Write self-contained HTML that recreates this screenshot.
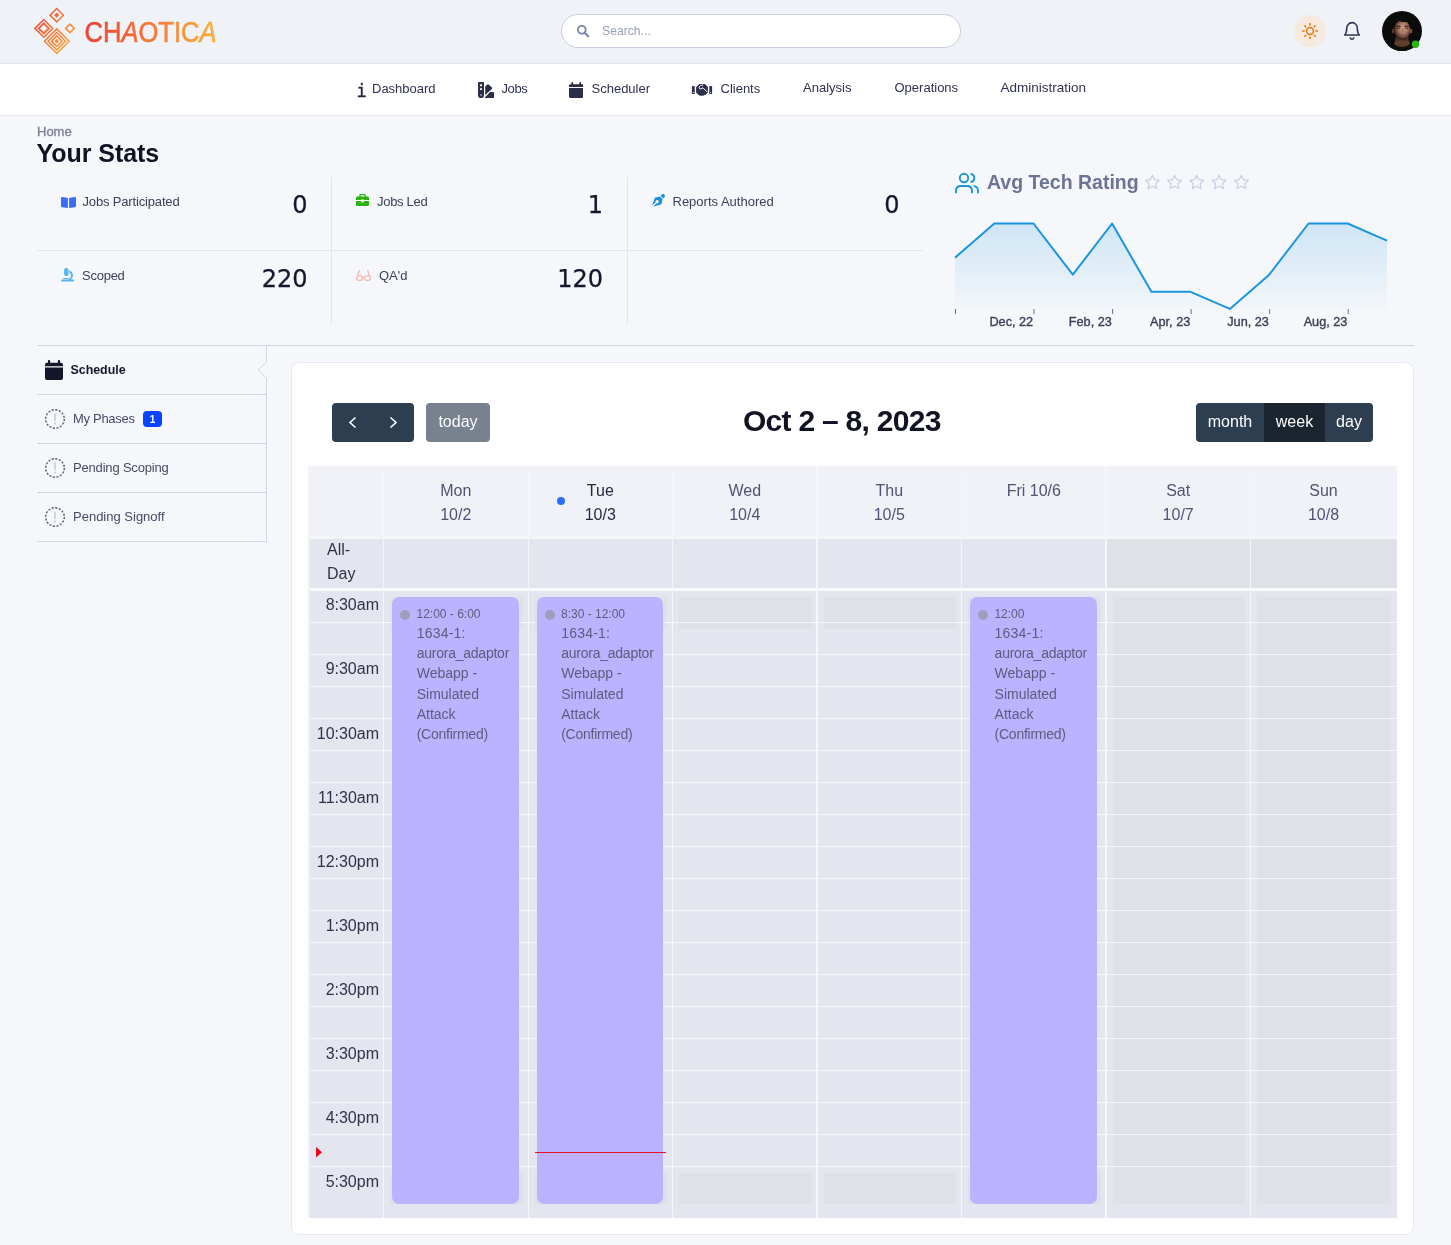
<!DOCTYPE html>
<html lang="en">
<head>
<meta charset="utf-8">
<title>Chaotica - Dashboard</title>
<style>
*{box-sizing:border-box;margin:0;padding:0}
html,body{width:1451px;height:1245px;overflow:hidden}
body{position:relative;background:#f5f7fa;font-family:"Liberation Sans",sans-serif;font-size:13px;color:#33354d}
.abs{position:absolute}
.t{position:absolute;white-space:nowrap;line-height:1}
/* header */
#hdr{position:absolute;left:0;top:0;width:1451px;height:64px;background:#eff2f7;border-bottom:1px solid #e1e5ee}
#nav{position:absolute;left:0;top:64px;width:1451px;height:52px;background:#fff;border-bottom:1px solid #e4e7f0}
#search{position:absolute;left:561px;top:14px;width:400px;height:34px;border:1px solid #c9cde0;border-radius:17px;background:#fff}
.nv{position:absolute;top:80.800px;font-size:13px;color:#2e3150;white-space:nowrap;line-height:15px}
/* stats */
.lbl{position:absolute;font-size:13px;color:#3c405c;white-space:nowrap;line-height:15px}
.num{-webkit-text-stroke:0.250px #14162b;position:absolute;font-family:"DejaVu Sans","Liberation Sans",sans-serif;font-size:24px;color:#14162b;white-space:nowrap;line-height:28px;text-align:right}
.hl{position:absolute;height:1px;background:#e2e5ee}
.vl{position:absolute;width:1px;background:#e2e5ee}
/* sidebar */
.sb{position:absolute;left:73px;font-size:13px;color:#474b66;white-space:nowrap;line-height:15px}
/* calendar */
#card{position:absolute;left:291px;top:362px;width:1123px;height:873px;background:#fff;border:1px solid #e6e9f1;border-radius:8px}
.btn{position:absolute;top:403px;height:39px;color:#fff;font-size:16px;line-height:39px;text-align:center;background:#2c3e50}
#grid{position:absolute;left:309px;top:466px;width:1087.500px;height:751.500px;background:#e3e6ee;overflow:hidden}
.gl{position:absolute;background:#f4f6fa}
.dh{position:absolute;top:13.200px;width:144px;text-align:center;font-size:16px;line-height:24px;color:#4f5474}
.tm{position:absolute;left:0;width:70px;text-align:right;font-size:16px;line-height:20px;color:#2f3349}
.ev{position:absolute;top:131px;height:607px;background:#bdb2ff;border-radius:7px;color:#5a5e7c;font-size:14px;line-height:20.2px}
.ev .dot{position:absolute;left:8px;top:13px;width:10px;height:10px;border-radius:5px;background:#9b9fbc}
.ev .tt{position:absolute;left:24.300px;top:10px;font-size:12px;line-height:14px;white-space:nowrap}
.ev .bd{position:absolute;left:24.500px;top:26px;white-space:nowrap}
.bg{position:absolute;background:#e0e1e6}
</style>
</head>
<body>
<!-- HEADER -->
<div id="hdr"></div>
<div id="nav"></div>
<svg class="abs" style="left:0;top:0" width="240" height="64" viewBox="0 0 240 64">
<defs><linearGradient id="lg" gradientUnits="userSpaceOnUse" x1="84" y1="0" x2="217" y2="0"><stop offset="0" stop-color="#ee4036"/><stop offset="1" stop-color="#fbb03b"/></linearGradient>
<linearGradient id="lg2" gradientUnits="userSpaceOnUse" x1="34" y1="14" x2="72" y2="46"><stop offset="0" stop-color="#ee4538"/><stop offset="1" stop-color="#fbaa3c"/></linearGradient></defs>
<path d="M50.0 15.2L56.7 8.5L63.4 15.2L56.7 21.9Z" fill="none" stroke="url(#lg2)" stroke-width="1.5"/>
<path d="M54.1 15.2L56.7 12.6L59.3 15.2L56.7 17.8Z" fill="url(#lg2)"/>
<path d="M34.9 28.4L43.8 19.5L52.7 28.4L43.8 37.3Z" fill="none" stroke="url(#lg2)" stroke-width="1.5"/>
<path d="M38.8 28.4L43.8 23.4L48.8 28.4L43.8 33.4Z" fill="none" stroke="url(#lg2)" stroke-width="1.9"/>
<path d="M65.7 28.4L70.0 24.1L74.3 28.4L70.0 32.7Z" fill="none" stroke="url(#lg2)" stroke-width="1.6"/>
<path d="M44.5 41.2L56.8 28.9L69.1 41.2L56.8 53.5Z" fill="none" stroke="url(#lg2)" stroke-width="1.5"/>
<path d="M48.1 41.2L56.8 32.5L65.5 41.2L56.8 49.9Z" fill="none" stroke="url(#lg2)" stroke-width="1.5"/>
<path d="M51.6 41.2L56.8 36.0L62.0 41.2L56.8 46.4Z" fill="none" stroke="url(#lg2)" stroke-width="1.6"/>
<path d="M54.4 41.2L56.8 38.8L59.2 41.2L56.8 43.6Z" fill="url(#lg2)"/>
<text x="84.500" y="41.700" font-family="Liberation Sans, sans-serif" font-size="30" fill="url(#lg)" stroke="url(#lg)" stroke-width="0.600" textLength="132" lengthAdjust="spacingAndGlyphs">CH<tspan font-style="italic">A</tspan>OTIC<tspan font-style="italic">A</tspan></text>
</svg>
<div id="search"></div>
<svg class="abs" style="left:576px;top:24px" width="14" height="14" viewBox="0 0 14 14"><circle cx="5.8" cy="5.8" r="3.9" fill="none" stroke="#7f86a8" stroke-width="1.9"/><path d="M8.7 8.7L12.2 12.2" stroke="#7f86a8" stroke-width="2.1" stroke-linecap="round"/></svg>
<div class="t" style="left:602px;top:24px;font-size:12.2px;color:#9aa0bd;line-height:14px">Search...</div>
<div class="abs" style="left:1294px;top:15px;width:32px;height:32px;border-radius:16px;background:#f5eadd"></div>
<svg class="abs" style="left:1301px;top:22px" width="18" height="18" viewBox="0 0 18 18" fill="none" stroke="#e8780e" stroke-width="1.5" stroke-linecap="round"><circle cx="9" cy="9" r="3.4"/><path d="M9 1.6v1.5M9 14.9v1.5M1.6 9h1.5M14.9 9h1.5M3.8 3.8l1 1M13.2 13.2l1 1M3.8 14.2l1-1M13.2 4.8l1-1"/></svg>
<svg class="abs" style="left:1342px;top:20px" width="20" height="22" viewBox="0 0 20 22" fill="none" stroke="#2e3252" stroke-width="1.6" stroke-linecap="round" stroke-linejoin="round"><path d="M2.600 15c1.500-1.200 2-2.800 2-5V9c0-3.700 2.300-6.400 5.400-6.400s5.400 2.700 5.400 6.400v1c0 2.200.5 3.800 2 5z"/><path d="M8.200 18c.4.800 1 1.100 1.800 1.100s1.400-.3 1.800-1.100"/></svg>
<svg class="abs" style="left:1381px;top:10px" width="44" height="44" viewBox="0 0 44 44">
<defs><radialGradient id="fc" cx="0.560" cy="0.420" r="0.600"><stop offset="0" stop-color="#cfa58c"/><stop offset="0.450" stop-color="#a97a62"/><stop offset="0.800" stop-color="#5e3e31"/><stop offset="1" stop-color="#2a1b17"/></radialGradient>
<linearGradient id="nk" x1="0" y1="0" x2="0" y2="1"><stop offset="0" stop-color="#3d261e"/><stop offset="0.500" stop-color="#65412f"/><stop offset="1" stop-color="#4a2f24"/></linearGradient>
<clipPath id="avc"><circle cx="21" cy="21" r="20"/></clipPath><filter id="bl" x="-20%" y="-20%" width="140%" height="140%"><feGaussianBlur stdDeviation="0.550"/></filter></defs>
<circle cx="21" cy="21" r="20" fill="#0c0b0c"/>
<g clip-path="url(#avc)"><g filter="url(#bl)">
<path d="M14.500 27c0 4-1 6-2 8l8.500 4 8.500-4c-1-2-2-4-2-8z" fill="url(#nk)"/>
<path d="M2 44c.5-6 4-9 10.500-10.500 2.500 2.500 5 3.500 8.500 3.500s6-1 8.500-3.500C36 35 39.500 38 40 44z" fill="#0d0c0d"/>
<ellipse cx="12.300" cy="21" rx="1.300" ry="2.600" fill="#5a3a2e"/><ellipse cx="30" cy="21" rx="1.300" ry="2.600" fill="#7a5342"/>
<ellipse cx="21.200" cy="20" rx="8" ry="10" fill="url(#fc)"/>
<path d="M11.500 19c-.8-8 3-14.500 9.700-14.500S31.500 11 30.700 19c-.8-4-2-6.500-4-7.500-2 .8-6 .8-9-.5-2.700 1.200-5 4-6.200 8z" fill="#0e0b0b"/>
<path d="M15.300 16.600c1.300-.7 3-.7 4.200 0M23.300 16.600c1.300-.7 3-.7 4.200 0" stroke="#2b1a16" stroke-width="1.100" fill="none"/>
<path d="M15.800 18.200h3.200M23.800 18.200h3.200" stroke="#3a2620" stroke-width=".9"/>
<path d="M21.800 18.500v4" stroke="#94684f" stroke-width="1.100"/>
<path d="M18.700 24.800c1.500.5 3.500.5 5 0" stroke="#8c5058" stroke-width="1.300" fill="none"/>
<path d="M17 28c2.500 1.300 6 1.300 8.500 0" stroke="#3a241d" stroke-width="1.200" fill="none"/>
</g></g>
<circle cx="34.500" cy="34.300" r="3.700" fill="#27b40c"/></svg>
<div class="nv" style="left:356.500px;top:80.500px;font-family:'DejaVu Sans Mono','Liberation Mono',monospace;font-size:17px;line-height:20px;color:#25273f;-webkit-text-stroke:0.350px #25273f">i</div>
<div class="nv" style="left:372px">Dashboard</div>
<svg class="abs" style="left:477.900px;top:81.900px" width="16.500" height="16.200" viewBox="0 0 16.500 16.200" fill="#2b2f4a"><path d="M0 .7C0 .3.300 0 .7 0h4.600c.4 0 .7.300.7.700v12.500a3 3 0 0 1-6 0zM2 2.300v1.900h2V2.300zM2 6.200v1.900h2V6.200z" fill-rule="evenodd"/><rect x="2.100" y="12.100" width="1.800" height="1.800" fill="#8d90a6"/><path d="M7.200 4.600L9.400 2.400c.300-.300.800-.300 1.100 0L14 5.600c.3.300.3.800 0 1.100L7.200 12.900z"/><path d="M6.300 16.100L12 10.100h3.500c.4 0 .7.300.7.700v4.600c0 .4-.3.700-.7.700z"/></svg>
<div class="nv" style="left:501.500px;letter-spacing:-0.4px">Jobs</div>
<svg class="abs" style="left:568.500px;top:81.800px" width="14.500" height="16" viewBox="0 0 16 17" preserveAspectRatio="none" fill="#2a2d47"><path d="M3.600 0c.6 0 1 .4 1 1v1.300h6.800V1c0-.6.400-1 1-1s1 .4 1 1v1.300h.9c.9 0 1.700.8 1.700 1.700v1.300H0V4c0-.9.800-1.700 1.700-1.700h.9V1c0-.6.400-1 1-1zM0 6.300h16v9c0 .9-.8 1.700-1.700 1.700H1.700C.8 17 0 16.200 0 15.300z"/></svg>
<div class="nv" style="left:591.500px">Scheduler</div>
<svg class="abs" style="left:691px;top:83px" width="22" height="14" viewBox="0 0 22 14" fill="#2b2f4a"><rect x=".9" y="3.100" width="2.800" height="7.900"/><rect x="18.300" y="3.100" width="2.800" height="7.900"/><circle cx="2.300" cy="9.500" r=".5" fill="#fff"/><circle cx="19.700" cy="9.500" r=".5" fill="#fff"/><path d="M5.100 4.200L8.300 1h5.600l3 3v5.400l-1.400 1.300-.800 1-1.300.2-.9.800-1.400-.1-.9.400-1.300-.6-1.300-.3-2.500-2.700z"/><path d="M12.300 2.100c-1.800-.4-3.600.5-4.100 2-.4 1.100.3 2 1.400 1.700l2.400-1 4.300 4.300" fill="none" stroke="#fff" stroke-width="1"/></svg>
<div class="nv" style="left:720.500px">Clients</div>
<div class="nv" style="left:803px;top:79.600px">Analysis</div>
<div class="nv" style="left:894.500px;top:79.600px">Operations</div>
<div class="nv" style="left:1000.500px;top:79.600px;font-size:13.500px">Administration</div>
<div class="t" style="left:37px;top:124.700px;font-size:13px;line-height:14px;color:#7d8196;-webkit-text-stroke:0.350px #7d8196">Home</div>
<div class="t" style="left:36.500px;top:139px;font-size:25px;line-height:28px;font-weight:bold;letter-spacing:-0.050px;color:#111324">Your Stats</div>
<div class="hl" style="left:37px;top:250px;width:886px"></div>
<div class="vl" style="left:331px;top:177px;height:147px"></div>
<div class="vl" style="left:627px;top:177px;height:147px"></div>
<!-- jobs participated -->
<svg class="abs" style="left:61px;top:197px" width="15" height="11" viewBox="0 0 15 11"><path d="M0 1C0 .4.500 0 1.100.100L6 .8c.500.100.900.500.900 1V11L1 10.200c-.600-.100-1-.500-1-1.100zM15 1c0-.600-.500-1-1.100-.900L9 .8c-.500.100-.900.500-.900 1V11l5.900-.8c.600-.100 1-.500 1-1.100z" fill="#3b6cf6"/></svg>
<div class="lbl" style="left:82.500px;top:193.700px;letter-spacing:-0.160px">Jobs Participated</div>
<div class="num" style="right:1143.500px;top:190.700px">0</div>
<!-- jobs led -->
<svg class="abs" style="left:356px;top:194px" width="13" height="12" viewBox="0 0 13 12"><path d="M4.500 0h4c.700 0 1.200.500 1.200 1.200V2.500h1.800c.800 0 1.500.700 1.500 1.500v2H8V5.500H5V6H0V4c0-.800.700-1.500 1.500-1.500h1.800V1.200C3.300.500 3.800 0 4.500 0zm.100 1.300v1.200h3.800V1.300zM0 7h5v.800c0 .400.300.700.700.700h1.600c.400 0 .700-.300.700-.700V7h5v3.500c0 .800-.700 1.500-1.500 1.500h-10C.700 12 0 11.300 0 10.500z" fill="#2bb20f" fill-rule="evenodd"/></svg>
<div class="lbl" style="left:377px;top:193.700px;letter-spacing:-0.300px">Jobs Led</div>
<div class="num" style="right:848px;top:190.700px">1</div>
<!-- reports authored -->
<svg class="abs" style="left:651px;top:194px" width="14" height="14" viewBox="0 0 14 14"><path d="M10.800.500c.600-.600 1.500-.600 2.100 0l.600.600c.600.600.600 1.500 0 2.100l-1.200 1.200-2.700-2.700zM8.900 2.400l2.700 2.700-1 4.300c-.100.500-.500.900-1 1L2 12.800l3.600-3.600c.600.200 1.300 0 1.700-.500.600-.600.600-1.600 0-2.200s-1.600-.600-2.200 0c-.500.500-.600 1.100-.500 1.700L1 11.800 3.600 4.400c.100-.500.500-.900 1-1z" fill="#1b8fe0"/></svg>
<div class="lbl" style="left:672.500px;top:193.700px">Reports Authored</div>
<div class="num" style="right:551.500px;top:190.700px">0</div>
<!-- scoped -->
<svg class="abs" style="left:61px;top:268px" width="13" height="14" viewBox="0 0 13 14"><path d="M4.300 0h2c.300 0 .500.200.500.500V1h.200c.300 0 .500.200.500.500v5c0 .300-.200.500-.500.500h-.200v.500c0 .300-.200.500-.500.500h-2c-.300 0-.500-.200-.500-.500V7h-.200C3.300 7 3.100 6.800 3.100 6.500v-5c0-.300.200-.500.500-.500h.200V.500c0-.300.200-.500.500-.500zM8.300 2.200c2.100.700 3.700 2.700 3.700 5.100 0 1.700-.800 3.200-2 4.200h2c.500 0 1 .400 1 1s-.500 1-1 1H1c-.500 0-1-.400-1-1s.500-1 1-1h5.500c2 0 3.500-1.700 3.500-3.700 0-1.400-.700-2.600-1.700-3.200zM2.500 10h5c.300 0 .500.200.500.500s-.200.500-.500.500h-5c-.300 0-.500-.200-.500-.500s.200-.500.500-.500z" fill="#56b7ea"/></svg>
<div class="lbl" style="left:82px;top:267.700px;letter-spacing:-0.250px">Scoped</div>
<div class="num" style="right:1143.500px;top:264.700px">220</div>
<!-- qa'd -->
<svg class="abs" style="left:356px;top:270px" width="15" height="11" viewBox="0 0 15 11" fill="none" stroke="#f7b7b3" stroke-width="1.300"><path d="M1.500 6.500L3 1.300c.100-.400.600-.700 1-.600M13.500 6.500L12 1.300c-.100-.400-.600-.700-1-.600"/><rect x=".7" y="5.800" width="5.600" height="4.500" rx="2"/><rect x="8.700" y="5.800" width="5.600" height="4.500" rx="2"/><path d="M6.300 7.200h2.400"/></svg>
<div class="lbl" style="left:379px;top:267.700px">QA'd</div>
<div class="num" style="right:848px;top:264.700px">120</div>

<svg class="abs" style="left:0;top:0" width="1451" height="345" viewBox="0 0 1451 345">
<defs><linearGradient id="ag" x1="0" y1="223" x2="0" y2="309" gradientUnits="userSpaceOnUse"><stop offset="0" stop-color="#1b95e0" stop-opacity="0.180"/><stop offset="1" stop-color="#1b95e0" stop-opacity="0.010"/></linearGradient></defs>
<path d="M955.0 257.7 L994.3 223.5 L1033.5 223.5 L1072.8 274.7 L1112.1 223.5 L1151.4 291.8 L1190.6 291.8 L1229.9 308.9 L1269.2 274.7 L1308.5 223.5 L1347.7 223.5 L1387.0 240.6 L1387.0 309 L955.0 309Z" fill="url(#ag)"/>
<path d="M955.0 257.7 L994.3 223.5 L1033.5 223.5 L1072.8 274.7 L1112.1 223.5 L1151.4 291.8 L1190.6 291.8 L1229.9 308.9 L1269.2 274.7 L1308.5 223.5 L1347.7 223.5 L1387.0 240.6" fill="none" stroke="#1b95e0" stroke-width="2" stroke-linejoin="round"/>
<path d="M955.5 309v5" stroke="#6b7088" stroke-width="1"/><path d="M1034.0 309v5" stroke="#6b7088" stroke-width="1"/><path d="M1112.6 309v5" stroke="#6b7088" stroke-width="1"/><path d="M1191.1 309v5" stroke="#6b7088" stroke-width="1"/><path d="M1269.7 309v5" stroke="#6b7088" stroke-width="1"/><path d="M1348.2 309v5" stroke="#6b7088" stroke-width="1"/>
<text x="1033.2" y="325.5" text-anchor="end" font-size="12.700" fill="#3b4058" stroke="#3b4058" stroke-width="0.350" font-family="Liberation Sans, sans-serif">Dec, 22</text><text x="1111.8" y="325.5" text-anchor="end" font-size="12.700" fill="#3b4058" stroke="#3b4058" stroke-width="0.350" font-family="Liberation Sans, sans-serif">Feb, 23</text><text x="1190.3" y="325.5" text-anchor="end" font-size="12.700" fill="#3b4058" stroke="#3b4058" stroke-width="0.350" font-family="Liberation Sans, sans-serif">Apr, 23</text><text x="1268.9" y="325.5" text-anchor="end" font-size="12.700" fill="#3b4058" stroke="#3b4058" stroke-width="0.350" font-family="Liberation Sans, sans-serif">Jun, 23</text><text x="1347.4" y="325.5" text-anchor="end" font-size="12.700" fill="#3b4058" stroke="#3b4058" stroke-width="0.350" font-family="Liberation Sans, sans-serif">Aug, 23</text>
<g fill="none" stroke="#1b95e0" stroke-width="1.900" stroke-linecap="round" stroke-linejoin="round"><circle cx="964" cy="178" r="4.200"/><path d="M956 192.500v-1.500c0-3 2-5 5-5h6c3 0 5 2 5 5v1.500"/><path d="M971.300 174c1.800.500 3 2.100 3 4s-1.200 3.500-3 4"/><path d="M978 192.500v-1.500c0-2.300-1.300-4.200-3.500-4.800"/></g>
<text x="987" y="189.300" font-size="19.500" font-weight="bold" fill="#6d7394" font-family="Liberation Sans, sans-serif">Avg Tech Rating</text>
<path transform="translate(1152.4 182.400)" d="M0 -7.200L2.100 -2.700L7 -2.100L3.400 1.300L4.300 6.200L0 3.800L-4.300 6.200L-3.400 1.300L-7 -2.100L-2.100 -2.700Z" fill="none" stroke="#c9cde0" stroke-width="1.200" stroke-linejoin="round"/><path transform="translate(1174.5 182.400)" d="M0 -7.200L2.100 -2.700L7 -2.100L3.400 1.300L4.300 6.200L0 3.800L-4.300 6.200L-3.400 1.300L-7 -2.100L-2.100 -2.700Z" fill="none" stroke="#c9cde0" stroke-width="1.200" stroke-linejoin="round"/><path transform="translate(1196.7 182.400)" d="M0 -7.200L2.100 -2.700L7 -2.100L3.400 1.300L4.300 6.200L0 3.800L-4.300 6.200L-3.400 1.300L-7 -2.100L-2.100 -2.700Z" fill="none" stroke="#c9cde0" stroke-width="1.200" stroke-linejoin="round"/><path transform="translate(1219 182.400)" d="M0 -7.200L2.100 -2.700L7 -2.100L3.400 1.300L4.300 6.200L0 3.800L-4.300 6.200L-3.400 1.300L-7 -2.100L-2.100 -2.700Z" fill="none" stroke="#c9cde0" stroke-width="1.200" stroke-linejoin="round"/><path transform="translate(1241.4 182.400)" d="M0 -7.200L2.100 -2.700L7 -2.100L3.400 1.300L4.300 6.200L0 3.800L-4.300 6.200L-3.400 1.300L-7 -2.100L-2.100 -2.700Z" fill="none" stroke="#c9cde0" stroke-width="1.200" stroke-linejoin="round"/>
</svg>
<div class="hl" style="left:37px;top:345px;width:1377px;background:#d1d6e3"></div>
<div class="hl" style="left:37px;top:394px;width:230px;background:#d1d6e3"></div>
<div class="hl" style="left:37px;top:443px;width:230px;background:#d1d6e3"></div>
<div class="hl" style="left:37px;top:492px;width:230px;background:#d1d6e3"></div>
<div class="hl" style="left:37px;top:541px;width:230px;background:#d1d6e3"></div>
<svg class="abs" style="left:250px;top:340px" width="20" height="204" viewBox="250 340 20 204"><path d="M266.500 345.500V361.800L258.100 370L266.500 378.200V541.500" fill="none" stroke="#d1d6e3" stroke-width="1"/></svg>
<svg class="abs" style="left:45px;top:360px" width="18" height="20" viewBox="0 0 16 17" preserveAspectRatio="none" fill="#14172b"><path d="M3.600 0c.6 0 1 .4 1 1v1.300h6.800V1c0-.6.400-1 1-1s1 .4 1 1v1.300h.9c.9 0 1.700.8 1.700 1.700v1.300H0V4c0-.9.800-1.700 1.700-1.700h.9V1c0-.6.400-1 1-1zM0 6.300h16v9c0 .9-.8 1.700-1.700 1.700H1.700C.8 17 0 16.200 0 15.300z"/></svg>
<div class="sb" style="left:70.500px;top:362.700px;font-weight:bold;color:#14172b;font-size:12.400px">Schedule</div>
<svg class="abs" style="left:44px;top:408px" width="22" height="22" viewBox="0 0 22 22"><circle cx="11" cy="11" r="9.300" fill="none" stroke="#53576f" stroke-width="1.350" stroke-dasharray="2.100 1.550"/><path d="M11 6v6.500" stroke="#c4c7d6" stroke-width="1.500" stroke-linecap="round"/><circle cx="11" cy="15.600" r="1" fill="#c4c7d6"/></svg>
<div class="sb" style="top:411.300px;letter-spacing:-0.300px">My Phases</div>
<div class="abs" style="left:143px;top:411px;width:19px;height:16px;border-radius:4px;background:#0a44ff;color:#fff;font-size:10px;font-weight:bold;line-height:17px;text-align:center">1</div>
<svg class="abs" style="left:44px;top:457px" width="22" height="22" viewBox="0 0 22 22"><circle cx="11" cy="11" r="9.300" fill="none" stroke="#53576f" stroke-width="1.350" stroke-dasharray="2.100 1.550"/><path d="M11 6v6.500" stroke="#c4c7d6" stroke-width="1.500" stroke-linecap="round"/><circle cx="11" cy="15.600" r="1" fill="#c4c7d6"/></svg>
<div class="sb" style="top:460.300px;letter-spacing:-0.180px">Pending Scoping</div>
<svg class="abs" style="left:44px;top:506px" width="22" height="22" viewBox="0 0 22 22"><circle cx="11" cy="11" r="9.300" fill="none" stroke="#53576f" stroke-width="1.350" stroke-dasharray="2.100 1.550"/><path d="M11 6v6.500" stroke="#c4c7d6" stroke-width="1.500" stroke-linecap="round"/><circle cx="11" cy="15.600" r="1" fill="#c4c7d6"/></svg>
<div class="sb" style="top:509.300px">Pending Signoff</div>

<div id="card"></div>
<div class="btn" style="left:332px;width:82px;border-radius:4px"></div>
<svg class="abs" style="left:332px;top:403px" width="82" height="39" viewBox="0 0 82 39" fill="none" stroke="#fff" stroke-width="1.600"><path d="M23.500 14.500L18 19.500L23.500 24.500"/><path d="M58.500 14.500L64 19.500L58.500 24.500"/></svg>
<div class="btn" style="left:426px;width:64px;border-radius:4px;background:#77828e;color:#fcfcfd;line-height:38px">today</div>
<div class="t" style="left:743px;top:403.500px;font-size:30px;letter-spacing:-0.720px;font-weight:bold;line-height:34px;color:#111322">Oct 2 – 8, 2023</div>
<div class="btn" style="left:1196px;width:68px;border-radius:4px 0 0 4px;line-height:38px">month</div>
<div class="btn" style="left:1264px;width:61px;background:#1a252f;line-height:38px">week</div>
<div class="btn" style="left:1325px;width:48px;border-radius:0 4px 4px 0;line-height:38px">day</div>
<div class="abs" style="left:308.200px;top:466px;width:1px;height:751.500px;background:#edf0f5"></div>
<div id="grid"><div class="abs" style="left:0;top:0;width:1087.5px;height:71px;background:#f0f2f7"></div>
<div class="bg" style="left:797.0px;top:72px;width:290.5px;height:50px"></div>
<div class="bg" style="left:803.5px;top:131px;width:132.0px;height:607px"></div>
<div class="bg" style="left:948.0px;top:131px;width:133.5px;height:607px"></div>
<div class="bg" style="left:81.1px;top:131px;width:132.5px;height:31.500px"></div>
<div class="bg" style="left:81.1px;top:707.200px;width:132.5px;height:30.800px"></div>
<div class="bg" style="left:225.6px;top:131px;width:132.5px;height:31.500px"></div>
<div class="bg" style="left:225.6px;top:707.200px;width:132.5px;height:30.800px"></div>
<div class="bg" style="left:370.1px;top:131px;width:132.5px;height:31.500px"></div>
<div class="bg" style="left:370.1px;top:707.200px;width:132.5px;height:30.800px"></div>
<div class="bg" style="left:514.5px;top:131px;width:132.5px;height:31.500px"></div>
<div class="bg" style="left:514.5px;top:707.200px;width:132.5px;height:30.800px"></div>
<div class="bg" style="left:659.0px;top:131px;width:132.5px;height:31.500px"></div>
<div class="bg" style="left:659.0px;top:707.200px;width:132.5px;height:30.800px"></div>
<div class="gl" style="left:0;top:70.200px;width:1087.5px;height:2.700px;background:#f3f5f9"></div>
<div class="gl" style="left:0;top:121.700px;width:1087.5px;height:3.200px;background:#fafbfd"></div>
<div class="gl" style="left:0;top:155.8px;width:1087.5px;height:1px"></div>
<div class="gl" style="left:0;top:187.8px;width:1087.5px;height:1px"></div>
<div class="gl" style="left:0;top:219.8px;width:1087.5px;height:1px"></div>
<div class="gl" style="left:0;top:251.9px;width:1087.5px;height:1px"></div>
<div class="gl" style="left:0;top:283.9px;width:1087.5px;height:1px"></div>
<div class="gl" style="left:0;top:315.9px;width:1087.5px;height:1px"></div>
<div class="gl" style="left:0;top:347.9px;width:1087.5px;height:1px"></div>
<div class="gl" style="left:0;top:379.9px;width:1087.5px;height:1px"></div>
<div class="gl" style="left:0;top:412.0px;width:1087.5px;height:1px"></div>
<div class="gl" style="left:0;top:444.0px;width:1087.5px;height:1px"></div>
<div class="gl" style="left:0;top:476.0px;width:1087.5px;height:1px"></div>
<div class="gl" style="left:0;top:508.0px;width:1087.5px;height:1px"></div>
<div class="gl" style="left:0;top:540.0px;width:1087.5px;height:1px"></div>
<div class="gl" style="left:0;top:572.1px;width:1087.5px;height:1px"></div>
<div class="gl" style="left:0;top:604.1px;width:1087.5px;height:1px"></div>
<div class="gl" style="left:0;top:636.1px;width:1087.5px;height:1px"></div>
<div class="gl" style="left:0;top:668.1px;width:1087.5px;height:1px"></div>
<div class="gl" style="left:0;top:700.1px;width:1087.5px;height:1px"></div>
<div class="gl" style="left:74.0px;top:0;width:1.200px;height:751.500px"></div>
<div class="gl" style="left:218.5px;top:0;width:1.200px;height:751.500px"></div>
<div class="gl" style="left:363.0px;top:0;width:1.200px;height:751.500px"></div>
<div class="gl" style="left:507.4px;top:0;width:1.200px;height:751.500px"></div>
<div class="gl" style="left:651.9px;top:0;width:1.200px;height:751.500px"></div>
<div class="gl" style="left:796.4px;top:0;width:1.200px;height:751.500px"></div>
<div class="gl" style="left:940.9px;top:0;width:1.200px;height:751.500px"></div>
<div class="gl" style="left:0;top:0;width:1px;height:751.500px;opacity:.7"></div>
<div class="dh" style="left:74.8px">Mon<br>10/2</div>
<div class="dh" style="left:219.3px;color:#262942">Tue<br>10/3</div>
<div class="dh" style="left:363.8px">Wed<br>10/4</div>
<div class="dh" style="left:508.3px">Thu<br>10/5</div>
<div class="dh" style="left:652.8px">Fri 10/6<br></div>
<div class="dh" style="left:797.2px">Sat<br>10/7</div>
<div class="dh" style="left:942.5px">Sun<br>10/8</div>
<div class="abs" style="left:248px;top:31px;width:8px;height:8px;border-radius:4px;background:#2f6bff"></div>
<div class="abs" style="left:18px;top:71.700px;font-size:16px;line-height:24px;color:#2f3349">All-<br>Day</div>
<div class="tm" style="top:129.3px">8:30am</div>
<div class="tm" style="top:193.4px">9:30am</div>
<div class="tm" style="top:257.5px">10:30am</div>
<div class="tm" style="top:321.6px">11:30am</div>
<div class="tm" style="top:385.7px">12:30pm</div>
<div class="tm" style="top:449.8px">1:30pm</div>
<div class="tm" style="top:513.8px">2:30pm</div>
<div class="tm" style="top:577.9px">3:30pm</div>
<div class="tm" style="top:642.0px">4:30pm</div>
<div class="tm" style="top:706.1px">5:30pm</div>
<div class="ev" style="left:83.2px;width:126.800px"><span class="dot"></span><div class="tt">12:00 - 6:00</div><div class="bd"><span style="letter-spacing:.2px">1634-1:</span><br><span style="letter-spacing:-.24px">aurora_adaptor</span><br>Webapp -<br>Simulated<br>Attack<br><span style="letter-spacing:-.25px">(Confirmed)</span></div></div>
<div class="ev" style="left:227.7px;width:126.800px"><span class="dot"></span><div class="tt">8:30 - 12:00</div><div class="bd"><span style="letter-spacing:.2px">1634-1:</span><br><span style="letter-spacing:-.24px">aurora_adaptor</span><br>Webapp -<br>Simulated<br>Attack<br><span style="letter-spacing:-.25px">(Confirmed)</span></div></div>
<div class="ev" style="left:661.1px;width:126.800px"><span class="dot"></span><div class="tt">12:00</div><div class="bd"><span style="letter-spacing:.2px">1634-1:</span><br><span style="letter-spacing:-.24px">aurora_adaptor</span><br>Webapp -<br>Simulated<br>Attack<br><span style="letter-spacing:-.25px">(Confirmed)</span></div></div>
<div class="abs" style="left:226px;top:685.5px;width:131px;height:1px;background:#e8112a"></div>
<svg class="abs" style="left:7px;top:680.7px" width="7" height="11" viewBox="0 0 7 11"><path d="M0 0L6 5.300L0 10.600Z" fill="#f00018"/></svg></div>
</body>
</html>
